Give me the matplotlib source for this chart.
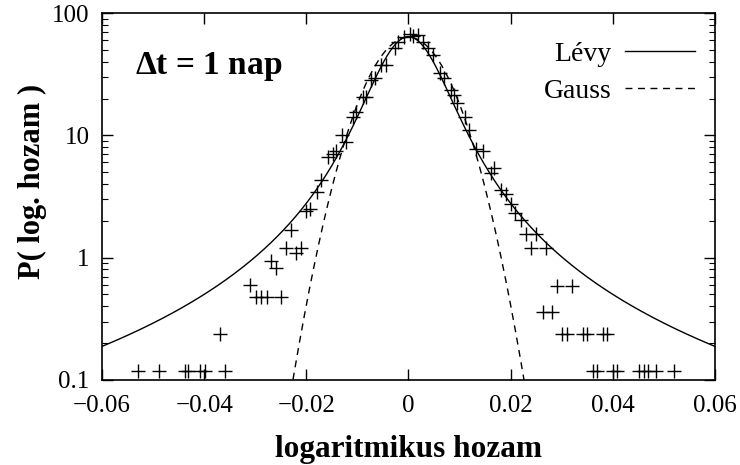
import math
import numpy as np
import matplotlib
matplotlib.use("Agg")
import matplotlib.pyplot as plt

plt.rcParams['font.family'] = ['Liberation Serif', 'DejaVu Serif']
plt.rcParams['mathtext.fontset'] = 'custom'
plt.rcParams['mathtext.rm'] = 'Liberation Serif'
plt.rcParams['mathtext.bf'] = 'Liberation Serif:bold'

# measured histogram points (log return, probability density)
ret = [-0.0530, -0.0489, -0.0438, -0.0432, -0.0409, -0.0399, -0.0360,
       -0.0370, -0.0310, -0.0298, -0.0288, -0.0278, -0.0249,
       -0.0269, -0.0259, -0.0239, -0.0220, -0.0210, -0.0231,
       -0.0200, -0.0192, -0.0180, -0.0171, -0.0158, -0.0148, -0.0141,
       -0.0130, -0.0122, -0.0109, -0.0102, -0.0089, -0.0083, -0.0073,
       -0.0065, -0.0053, -0.0044, -0.0027, -0.0021, -0.0008, 0.0002,
       0.0008, 0.0018, 0.0028, 0.0038, 0.0048, 0.0061, 0.0070, 0.0083,
       0.0090, 0.0096, 0.0110, 0.0119, 0.0132, 0.0145, 0.0162, 0.0168,
       0.0181, 0.0191, 0.0201, 0.0209, 0.0220, 0.0230, 0.0249, 0.0240,
       0.0269, 0.0291, 0.0320, 0.0263, 0.0281, 0.0301, 0.0310, 0.0341,
       0.0349, 0.0380, 0.0388, 0.0361, 0.0369, 0.0400, 0.0408, 0.0452,
       0.0461, 0.0470, 0.0485, 0.0520]
dens = [0.118, 0.118, 0.118, 0.118, 0.118, 0.118, 0.118,
        0.238, 0.594, 0.477, 0.477, 0.477, 0.477,
        0.945, 0.824, 1.19, 1.09, 1.19, 1.68,
        2.42, 2.48, 3.47, 4.3, 6.7, 7.0, 7.4,
        10.1, 8.9, 14.2, 15.6, 20.7, 20.7, 28.4,
        29.6, 37.7, 37.7, 51.5, 58.4, 64.1, 67.6,
        65.0, 66.0, 58.4, 51.5, 45.4, 32.1, 29.6, 23.5,
        21.3, 18.3, 14.2, 11.1, 7.8, 7.4, 4.9, 5.4,
        3.58, 3.3, 2.75, 2.3, 2.03, 1.56, 1.56, 1.19,
        1.19, 0.587, 0.587, 0.362, 0.362, 0.238, 0.238, 0.238,
        0.238, 0.238, 0.238, 0.118, 0.118, 0.118, 0.118, 0.118,
        0.118, 0.118, 0.118, 0.118]

# fitted model parameters
levy_alpha = 1.33
levy_peak = 64.0
gauss_sigma = 0.0063

x = np.linspace(-0.06, 0.06, 1201)

# symmetric Levy stable density via its Fourier integral
gamma = (math.gamma(1 + 1 / levy_alpha) / (np.pi * levy_peak)) ** levy_alpha
q = np.linspace(0, 8000, 80001)
char = np.exp(-gamma * q ** levy_alpha)
levy = np.trapezoid(char[None, :] * np.cos(np.outer(x, q)), q, axis=1) / np.pi

gauss = np.exp(-x ** 2 / (2 * gauss_sigma ** 2)) / (gauss_sigma * np.sqrt(2 * np.pi))

fig = plt.figure(figsize=(7.4, 4.65), dpi=100)
ax = fig.add_axes([0.138, 0.183, 0.828, 0.789])

ax.plot(x, levy, color='black', lw=1.0, label='Lévy')
ax.plot(x, gauss, color='black', lw=1.0, ls=(0, (5, 4)), label='Gauss')
ax.plot(ret, dens, ls='none', marker='+', ms=9.5, mew=1.0, color='black')

ax.set_yscale('log')
ax.set_xlim(-0.06, 0.06)
ax.set_ylim(0.1, 100)
ax.set_xticks([-0.06, -0.04, -0.02, 0, 0.02, 0.04, 0.06])
ax.set_xticklabels(['\u22120.06', '\u22120.04', '\u22120.02', '0', '0.02', '0.04', '0.06'])
ax.set_yticks([0.1, 1, 10, 100])
ax.set_yticklabels(['0.1', '1', '10', '100'])
ax.tick_params(which='both', direction='in', top=True, right=True, labelsize=18)
ax.tick_params(which='major', length=8, width=1)
ax.tick_params(which='minor', length=4, width=0.8)
ax.tick_params(axis='x', pad=11)
ax.tick_params(axis='y', pad=9)
for s in ax.spines.values():
    s.set_linewidth(1.2)

ax.set_xlabel('logaritmikus hozam', fontsize=22.5, fontweight='bold', labelpad=13)
ax.set_ylabel('P( log. hozam )', fontsize=22, fontweight='bold')
ax.yaxis.set_label_coords(-0.09, 0.54)

ax.text(0.054, 0.835, r'$\mathbf{\Delta}$t = 1 nap', transform=ax.transAxes,
        fontsize=24, fontweight='bold')

ax.legend(loc='upper right', bbox_to_anchor=(0.99, 0.96), frameon=False,
          markerfirst=False, fontsize=20, handlelength=2.5, handletextpad=0.5,
          borderpad=0, labelspacing=0.4)

fig.savefig('out.png', dpi=100)
